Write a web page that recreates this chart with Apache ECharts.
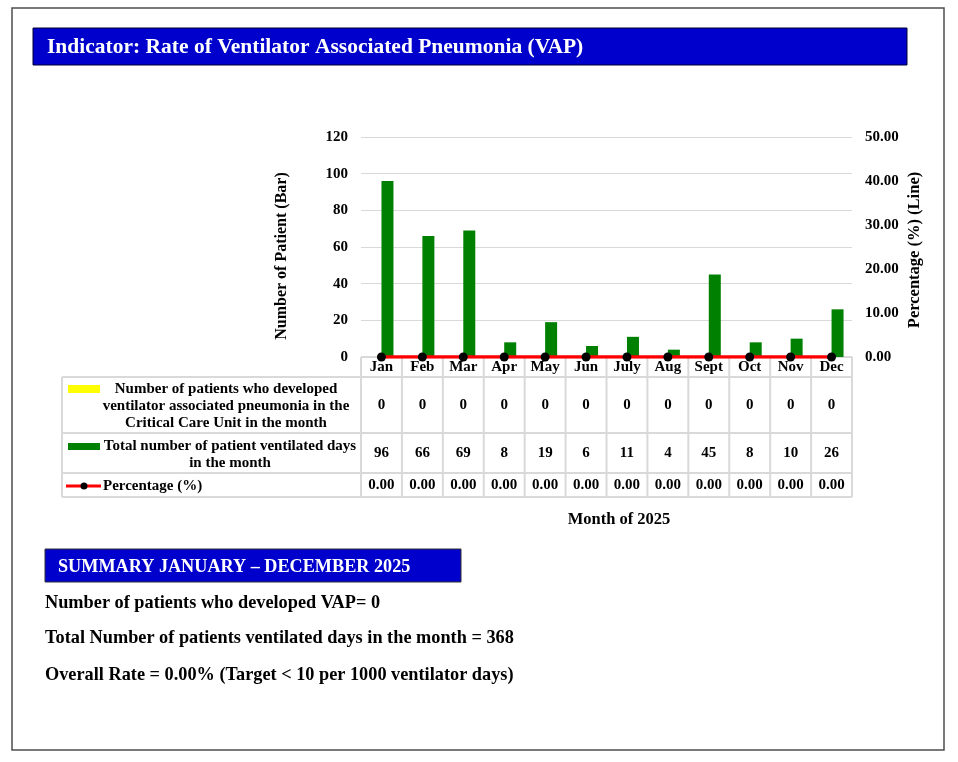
<!DOCTYPE html>
<html>
<head>
<meta charset="utf-8">
<script src="https://cdn.jsdelivr.net/npm/echarts@6/dist/echarts.min.js"></script>
<style>
html,body{margin:0;padding:0;background:#fff;}
#chart{width:958px;height:762px;}
</style>
</head>
<body>
<div id="chart"></div>
<script>
// ---- data ----
var months = ['Jan','Feb','Mar','Apr','May','Jun','July','Aug','Sept','Oct','Nov','Dec'];
var vapCases = [0,0,0,0,0,0,0,0,0,0,0,0];
var ventDays = [96,66,69,8,19,6,11,4,45,8,10,26];
var percentage = [0,0,0,0,0,0,0,0,0,0,0,0];
var leftTicks = {min:0, max:120, interval:20};
var rightTicks = {min:0, max:50, interval:10};
var titleText = 'Indicator: Rate of Ventilator Associated Pneumonia (VAP)';
var summaryTitle = 'SUMMARY JANUARY \u2013 DECEMBER 2025';
var summaryLines = [
  'Number of patients who developed VAP= 0',
  'Total Number of patients ventilated days in the month = 368',
  'Overall Rate = 0.00% (Target < 10 per 1000 ventilator days)'
];

// ---- layout ----
var FONT = '"Liberation Serif", "Times New Roman", serif';
var gL = 361, gR = 852, gT = 137, gB = 357;
var tableLeft = 62;
var rowLines = [377, 433, 473, 497];
var lineCol = '#d9d9d9';
var TF = 15; // table font size

var chart = echarts.init(document.getElementById('chart'));

function tableAxis(offset, values, margin, fmt) {
  return {
    type: 'category', data: months, position: 'bottom', offset: offset, gridIndex: 0,
    axisLine: {show: false},
    axisTick: {show: false},
    axisLabel: {show: !!values, interval: 0, margin: margin, color: '#000', fontFamily: FONT, fontWeight: 'bold', fontSize: TF,
      formatter: function (v, i) { return values ? (fmt ? fmt(values[i]) : String(values[i])) : ''; }},
    splitLine: {show: false}
  };
}

var graphics = [
  {type: 'rect', shape: {x: 12, y: 8, width: 932, height: 742}, style: {fill: 'none', stroke: '#4d4d4d', lineWidth: 1.5}, z: 0},
  {type: 'rect', shape: {x: 33, y: 28, width: 874, height: 37}, style: {fill: '#0000CC', stroke: '#000033', lineWidth: 1}},
  {type: 'text', x: 47, y: 47, style: {text: titleText, fill: '#fff', font: 'bold 21.5px ' + FONT, textVerticalAlign: 'middle'}},
  // y axis titles
  {type: 'text', x: 282, y: 256, rotation: Math.PI / 2, style: {text: 'Number of Patient (Bar)', fill: '#000', font: 'bold 16px ' + FONT, textAlign: 'center', textVerticalAlign: 'middle'}},
  {type: 'text', x: 915, y: 250, rotation: Math.PI / 2, style: {text: 'Percentage (%) (Line)', fill: '#000', font: 'bold 16.5px ' + FONT, textAlign: 'center', textVerticalAlign: 'middle'}},
  // table left column vertical line
  {type: 'line', shape: {x1: tableLeft, y1: rowLines[0], x2: tableLeft, y2: rowLines[3]}, style: {stroke: lineCol, lineWidth: 2}}
];
// table horizontal lines
rowLines.forEach(function (y) {
  graphics.push({type: 'line', shape: {x1: tableLeft, y1: y, x2: gR, y2: y}, style: {stroke: lineCol, lineWidth: 2}});
});
graphics.push({type: 'line', shape: {x1: gL, y1: gB, x2: gR, y2: gB}, style: {stroke: lineCol, lineWidth: 2}, z: 0});
// table vertical lines at category boundaries
for (var i = 0; i <= months.length; i++) {
  var x = gL + i * (gR - gL) / months.length;
  graphics.push({type: 'line', shape: {x1: x, y1: gB, x2: x, y2: rowLines[3]}, style: {stroke: lineCol, lineWidth: 2}, z: 0});
}
// legend cells
graphics.push(
  {type: 'rect', shape: {x: 68, y: 385, width: 32, height: 8}, style: {fill: '#FFFF00'}},
  {type: 'text', x: 226, y: 406, style: {text: 'Number of patients who developed\nventilator associated pneumonia in the\nCritical Care Unit in the month', fill: '#000', font: 'bold ' + TF + 'px ' + FONT, textAlign: 'center', textVerticalAlign: 'middle', lineHeight: 17}},
  {type: 'rect', shape: {x: 68, y: 443, width: 32, height: 7}, style: {fill: '#008000'}},
  {type: 'text', x: 230, y: 454.5, style: {text: 'Total number of patient ventilated days\nin the month', fill: '#000', font: 'bold ' + TF + 'px ' + FONT, textAlign: 'center', textVerticalAlign: 'middle', lineHeight: 17}},
  {type: 'line', shape: {x1: 66, y1: 486, x2: 101, y2: 486}, style: {stroke: '#FF0000', lineWidth: 3}},
  {type: 'circle', shape: {cx: 84, cy: 486, r: 3.5}, style: {fill: '#000'}},
  {type: 'text', x: 103, y: 486, style: {text: 'Percentage (%)', fill: '#000', font: 'bold ' + TF + 'px ' + FONT, textVerticalAlign: 'middle'}},
  {type: 'text', x: 619, y: 520, style: {text: 'Month of 2025', fill: '#000', font: 'bold 16.5px ' + FONT, textAlign: 'center', textVerticalAlign: 'middle'}},
  // summary
  {type: 'rect', shape: {x: 45, y: 549, width: 416, height: 33}, style: {fill: '#0000CC', stroke: '#333', lineWidth: 1}},
  {type: 'text', x: 58, y: 567, style: {text: summaryTitle, fill: '#fff', font: 'bold 18.2px ' + FONT, textVerticalAlign: 'middle'}}
);
var sumY = [603, 638, 675];
summaryLines.forEach(function (t, i) {
  graphics.push({type: 'text', x: 45, y: sumY[i], style: {text: t, fill: '#000', font: 'bold 18.3px ' + FONT, textVerticalAlign: 'middle'}});
});

var option = {
  animation: false,
  backgroundColor: '#fff',
  grid: {left: gL, top: gT, width: gR - gL, height: gB - gT, containLabel: false},
  xAxis: [
    {
      type: 'category', data: months, position: 'bottom',
      axisLine: {show: false},
      axisTick: {show: false},
      axisLabel: {interval: 0, margin: 3, color: '#000', fontFamily: FONT, fontWeight: 'bold', fontSize: TF},
      splitLine: {show: false}
    },
    tableAxis(20, vapCases, 21),
    tableAxis(76, ventDays, 13),
    tableAxis(116, percentage, 5, function (v) { return v.toFixed(2); })
  ],
  yAxis: [
    {
      type: 'value', min: leftTicks.min, max: leftTicks.max, interval: leftTicks.interval, position: 'left',
      axisLine: {show: false}, axisTick: {show: false},
      axisLabel: {color: '#000', fontFamily: FONT, fontWeight: 'bold', fontSize: 15, margin: 13},
      splitLine: {show: true, lineStyle: {color: '#d9d9d9', width: 1}}
    },
    {
      type: 'value', min: rightTicks.min, max: rightTicks.max, interval: rightTicks.interval, position: 'right',
      axisLine: {show: false}, axisTick: {show: false},
      axisLabel: {color: '#000', fontFamily: FONT, fontWeight: 'bold', fontSize: 15, margin: 13,
        formatter: function (v) { return v.toFixed(2); }},
      splitLine: {show: false}
    }
  ],
  series: [
    {name: 'VAP cases', type: 'bar', data: vapCases, barWidth: 12, barGap: '0%', itemStyle: {color: '#FFFF00'}, xAxisIndex: 0, yAxisIndex: 0},
    {name: 'Ventilated days', type: 'bar', data: ventDays, barWidth: 12, barGap: '0%', itemStyle: {color: '#008000'}, xAxisIndex: 0, yAxisIndex: 0},
    {name: 'Percentage (%)', type: 'line', data: percentage, xAxisIndex: 0, yAxisIndex: 1,
      symbol: 'circle', symbolSize: 9, itemStyle: {color: '#000'}, lineStyle: {color: '#FF0000', width: 3.5}, z: 5}
  ],
  graphic: graphics
};
chart.setOption(option);
</script>
</body>
</html>
